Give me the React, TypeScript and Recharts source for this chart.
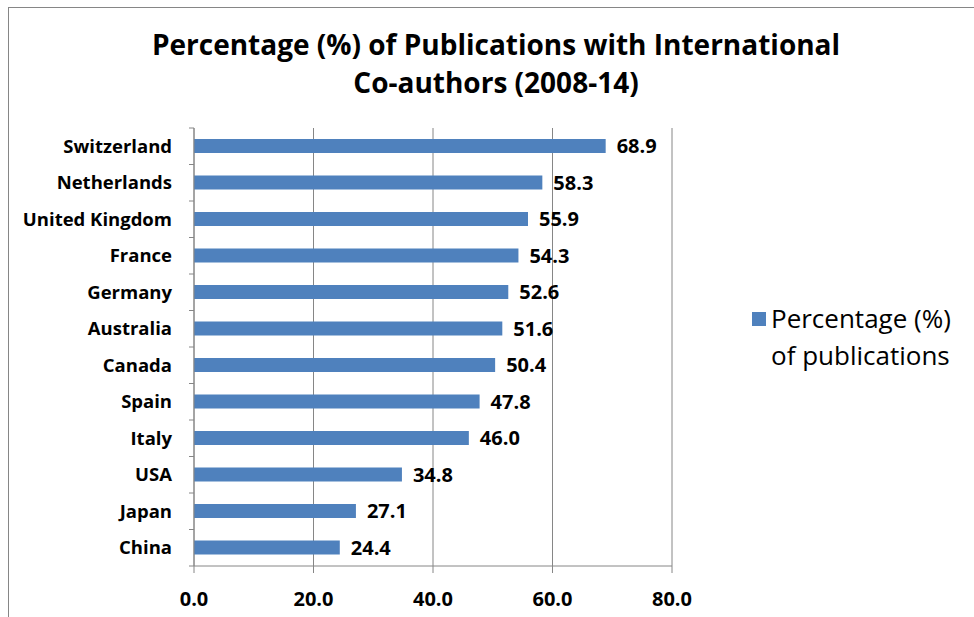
import { BarChart, Bar, XAxis, YAxis, CartesianGrid, LabelList } from 'recharts';

const countries = [
  'Switzerland', 'Netherlands', 'United Kingdom', 'France', 'Germany', 'Australia',
  'Canada', 'Spain', 'Italy', 'USA', 'Japan', 'China',
];
const shares = [68.9, 58.3, 55.9, 54.3, 52.6, 51.6, 50.4, 47.8, 46.0, 34.8, 27.1, 24.4];
const xTicks = [0, 20, 40, 60, 80];
const legendLines = ['Percentage (%)', 'of publications'];

const data = countries.map((name, i) => ({ name, value: shares[i] }));

const FONT = '"Open Sans", sans-serif';
const AXIS_GREY = '#868686';
const BAR_BLUE = '#4F81BD';
const PLOT_TOP = 128;
const PLOT_BOTTOM = 566;
const BAND = (PLOT_BOTTOM - PLOT_TOP) / countries.length;

function CountryTick(props: any) {
  const { x, y, payload, index } = props;
  const axisX = x + 22;
  return (
    <g>
      <line x1={axisX - 5} x2={axisX} y1={y - BAND / 2} y2={y - BAND / 2} stroke={AXIS_GREY} />
      {index === countries.length - 1 && (
        <line x1={axisX - 5} x2={axisX} y1={y + BAND / 2} y2={y + BAND / 2} stroke={AXIS_GREY} />
      )}
      <text x={x} y={y} dy="0.35em" textAnchor="end" fontFamily={FONT} fontWeight={700} fontSize={18.5} fill="#000">
        {payload.value}
      </text>
    </g>
  );
}

export default function App() {
  return (
    <div style={{ position: 'absolute', left: 0, top: 0, width: 974, height: 617, overflow: 'hidden', background: '#fff' }}>
      <div style={{ position: 'absolute', left: 8, top: 7, width: 1100, height: 700, border: `1px solid ${AXIS_GREY}` }} />
      <div
        style={{
          position: 'absolute', left: 46, top: 25, width: 900, textAlign: 'center',
          fontFamily: FONT, fontWeight: 700, fontSize: 28, lineHeight: '38px', color: '#000',
        }}
      >
        Percentage (%) of Publications with International<br />Co-authors (2008-14)
      </div>
      <BarChart
        width={974}
        height={617}
        data={data}
        layout="vertical"
        margin={{ top: PLOT_TOP, right: 302, bottom: 0, left: 0 }}
        barSize={14}
        style={{ position: 'absolute', left: 0, top: 0 }}
      >
        <CartesianGrid horizontal={false} stroke={AXIS_GREY} />
        <XAxis
          type="number"
          domain={[0, 80]}
          ticks={xTicks}
          interval={0}
          tickFormatter={(v: number) => v.toFixed(1)}
          stroke={AXIS_GREY}
          tickSize={7}
          tickMargin={19}
          height={617 - PLOT_BOTTOM}
          tick={{ fill: '#000', fontFamily: FONT, fontWeight: 700, fontSize: 20 }}
        />
        <YAxis
          type="category"
          dataKey="name"
          width={194}
          stroke={AXIS_GREY}
          tickLine={false}
          tickSize={5}
          tickMargin={17}
          interval={0}
          tick={<CountryTick />}
        />
        <Bar dataKey="value" fill={BAR_BLUE} isAnimationActive={false}>
          <LabelList
            dataKey="value"
            position="right"
            offset={11}
            formatter={(v: any) => Number(v).toFixed(1)}
            style={{ fill: '#000', fontFamily: FONT, fontWeight: 700, fontSize: 20 }}
          />
        </Bar>
      </BarChart>
      <div
        style={{
          position: 'absolute', left: 752, top: 300, display: 'flex',
          fontFamily: FONT, fontSize: 26, lineHeight: '37px', color: '#000',
        }}
      >
        <div style={{ width: 14, height: 14, background: BAR_BLUE, marginTop: 12, marginRight: 5 }} />
        <div style={{ width: 210 }}>
          {legendLines[0]}<br />{legendLines[1]}
        </div>
      </div>
    </div>
  );
}
